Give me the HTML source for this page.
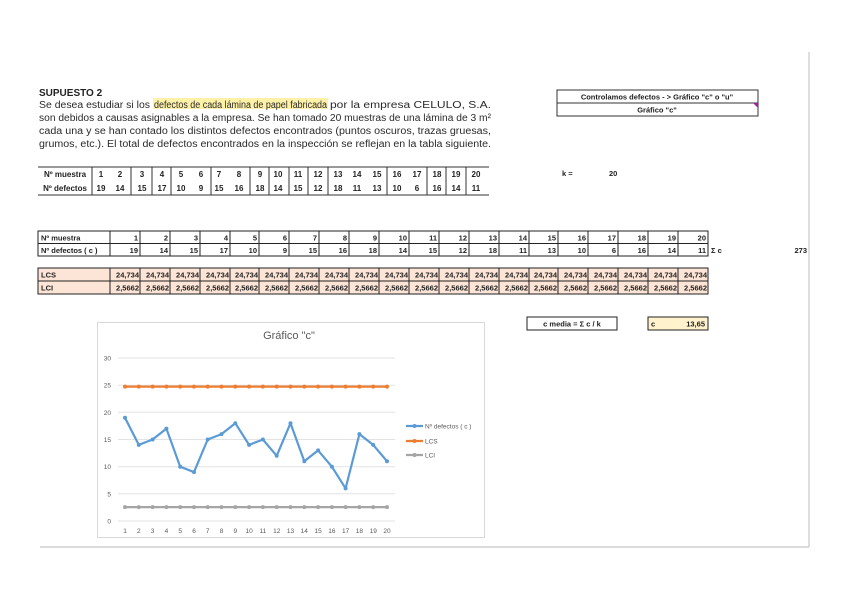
<!DOCTYPE html>
<html><head><meta charset="utf-8"><style>
html,body{margin:0;padding:0;background:#fff;}
svg{display:block;font-family:"Liberation Sans Narrow","Liberation Sans",sans-serif;}
</style></head><body>
<svg width="848" height="599" viewBox="0 0 848 599" xmlns="http://www.w3.org/2000/svg">
<rect width="848" height="599" fill="#fff"/>
<line x1="809" y1="52" x2="809" y2="547" stroke="#c8c8c8" stroke-width="1.2"/>
<line x1="40" y1="547" x2="809" y2="547" stroke="#c8c8c8" stroke-width="1.2"/>

<text x="39" y="96" font-size="10" font-weight="bold" fill="#222">SUPUESTO 2</text>
<rect x="153" y="98" width="175" height="11" fill="#fff2a8"/>
<g font-size="10" fill="#2a2a2a">
<text x="39" y="108" textLength="111" lengthAdjust="spacingAndGlyphs">Se desea estudiar si los</text>
<text x="154" y="108" textLength="173" lengthAdjust="spacingAndGlyphs">defectos de cada lámina de papel fabricada</text>
<text x="330" y="108" textLength="161" lengthAdjust="spacingAndGlyphs">por la empresa CELULO, S.A.</text>
<text x="39" y="121" textLength="452" lengthAdjust="spacingAndGlyphs">son debidos  a causas asignables a la empresa. Se han tomado 20 muestras de una lámina de 3 m²</text>
<text x="39" y="134" textLength="452" lengthAdjust="spacingAndGlyphs">cada una y se han contado los distintos defectos encontrados (puntos oscuros, trazas gruesas,</text>
<text x="39" y="147" textLength="452" lengthAdjust="spacingAndGlyphs">grumos, etc.). El total de defectos encontrados en la inspección se reflejan en la tabla siguiente.</text>
</g>

<g stroke="#333" stroke-width="1" fill="none">
<line x1="38" y1="167" x2="489" y2="167"/>
<line x1="38" y1="195" x2="489" y2="195"/>
<line x1="92" y1="167" x2="92" y2="195"/>
<line x1="131" y1="167" x2="131" y2="195"/>
<line x1="152" y1="167" x2="152" y2="195"/>
<line x1="171" y1="167" x2="171" y2="195"/>
<line x1="211" y1="167" x2="211" y2="195"/>
<line x1="250" y1="167" x2="250" y2="195"/>
<line x1="269" y1="167" x2="269" y2="195"/>
<line x1="289" y1="167" x2="289" y2="195"/>
<line x1="308" y1="167" x2="308" y2="195"/>
<line x1="328" y1="167" x2="328" y2="195"/>
<line x1="387" y1="167" x2="387" y2="195"/>
<line x1="427" y1="167" x2="427" y2="195"/>
<line x1="446" y1="167" x2="446" y2="195"/>
<line x1="466" y1="167" x2="466" y2="195"/>
</g>
<g font-size="8" font-weight="bold" fill="#222" text-anchor="middle">
<text x="65" y="177">Nº muestra</text><text x="65" y="191">Nº defectos</text>
<text x="101" y="177">1</text><text x="120" y="177">2</text><text x="142" y="177">3</text><text x="162" y="177">4</text><text x="181" y="177">5</text><text x="201" y="177">6</text><text x="219" y="177">7</text><text x="239" y="177">8</text><text x="260" y="177">9</text><text x="278" y="177">10</text><text x="298" y="177">11</text><text x="318" y="177">12</text><text x="338" y="177">13</text><text x="357" y="177">14</text><text x="377" y="177">15</text><text x="397" y="177">16</text><text x="417" y="177">17</text><text x="437" y="177">18</text><text x="456" y="177">19</text><text x="476" y="177">20</text>
<text x="101" y="191">19</text><text x="120" y="191">14</text><text x="142" y="191">15</text><text x="162" y="191">17</text><text x="181" y="191">10</text><text x="201" y="191">9</text><text x="219" y="191">15</text><text x="239" y="191">16</text><text x="260" y="191">18</text><text x="278" y="191">14</text><text x="298" y="191">15</text><text x="318" y="191">12</text><text x="338" y="191">18</text><text x="357" y="191">11</text><text x="377" y="191">13</text><text x="397" y="191">10</text><text x="417" y="191">6</text><text x="437" y="191">16</text><text x="456" y="191">14</text><text x="476" y="191">11</text>
</g>

<rect x="557" y="90" width="201" height="13" fill="none" stroke="#333"/>
<rect x="557" y="103" width="201" height="13" fill="none" stroke="#333"/>
<polygon points="753,103 758,103 758,108" fill="#a020a0"/>
<g font-size="7.5" font-weight="bold" fill="#222" text-anchor="middle">
<text x="657" y="99.5">Controlamos defectos - &gt; Gráfico "c" o "u"</text>
<text x="657" y="112.5">Gráfico "c"</text>
</g>
<text x="562" y="176" font-size="7.5" font-weight="bold" fill="#222">k =</text>
<text x="609" y="176" font-size="7.5" font-weight="bold" fill="#222">20</text>

<g stroke="#222" stroke-width="1" fill="none">
<rect x="38" y="231" width="670" height="25"/>
<line x1="38" y1="243.5" x2="708" y2="243.5"/>
<line x1="110" y1="231" x2="110" y2="256"/>
<line x1="140" y1="231" x2="140" y2="256"/><line x1="170" y1="231" x2="170" y2="256"/><line x1="200" y1="231" x2="200" y2="256"/><line x1="230" y1="231" x2="230" y2="256"/><line x1="259" y1="231" x2="259" y2="256"/><line x1="289" y1="231" x2="289" y2="256"/><line x1="319" y1="231" x2="319" y2="256"/><line x1="349" y1="231" x2="349" y2="256"/><line x1="379" y1="231" x2="379" y2="256"/><line x1="409" y1="231" x2="409" y2="256"/><line x1="439" y1="231" x2="439" y2="256"/><line x1="469" y1="231" x2="469" y2="256"/><line x1="499" y1="231" x2="499" y2="256"/><line x1="529" y1="231" x2="529" y2="256"/><line x1="558" y1="231" x2="558" y2="256"/><line x1="588" y1="231" x2="588" y2="256"/><line x1="618" y1="231" x2="618" y2="256"/><line x1="648" y1="231" x2="648" y2="256"/><line x1="678" y1="231" x2="678" y2="256"/>
</g>
<g font-size="7.5" font-weight="bold" fill="#222">
<text x="41" y="240.5">Nº muestra</text><text x="41" y="253">Nº defectos ( c )</text>
</g>
<g font-size="7.5" font-weight="bold" fill="#222" text-anchor="end">
<text x="138" y="240.5">1</text><text x="168" y="240.5">2</text><text x="198" y="240.5">3</text><text x="228" y="240.5">4</text><text x="257" y="240.5">5</text><text x="287" y="240.5">6</text><text x="317" y="240.5">7</text><text x="347" y="240.5">8</text><text x="377" y="240.5">9</text><text x="407" y="240.5">10</text><text x="437" y="240.5">11</text><text x="467" y="240.5">12</text><text x="497" y="240.5">13</text><text x="527" y="240.5">14</text><text x="556" y="240.5">15</text><text x="586" y="240.5">16</text><text x="616" y="240.5">17</text><text x="646" y="240.5">18</text><text x="676" y="240.5">19</text><text x="706" y="240.5">20</text>
<text x="138" y="253">19</text><text x="168" y="253">14</text><text x="198" y="253">15</text><text x="228" y="253">17</text><text x="257" y="253">10</text><text x="287" y="253">9</text><text x="317" y="253">15</text><text x="347" y="253">16</text><text x="377" y="253">18</text><text x="407" y="253">14</text><text x="437" y="253">15</text><text x="467" y="253">12</text><text x="497" y="253">18</text><text x="527" y="253">11</text><text x="556" y="253">13</text><text x="586" y="253">10</text><text x="616" y="253">6</text><text x="646" y="253">16</text><text x="676" y="253">14</text><text x="706" y="253">11</text>
<text x="807" y="253">273</text>
</g>
<text x="711" y="253" font-size="7.5" font-weight="bold" fill="#222">Σ c</text>

<rect x="38" y="268" width="670" height="26" fill="#fce4d6"/>
<g stroke="#222" stroke-width="1" fill="none">
<rect x="38" y="268" width="670" height="26"/>
<line x1="38" y1="281" x2="708" y2="281"/>
<line x1="110" y1="268" x2="110" y2="294"/>
<line x1="140" y1="268" x2="140" y2="294"/><line x1="170" y1="268" x2="170" y2="294"/><line x1="200" y1="268" x2="200" y2="294"/><line x1="230" y1="268" x2="230" y2="294"/><line x1="259" y1="268" x2="259" y2="294"/><line x1="289" y1="268" x2="289" y2="294"/><line x1="319" y1="268" x2="319" y2="294"/><line x1="349" y1="268" x2="349" y2="294"/><line x1="379" y1="268" x2="379" y2="294"/><line x1="409" y1="268" x2="409" y2="294"/><line x1="439" y1="268" x2="439" y2="294"/><line x1="469" y1="268" x2="469" y2="294"/><line x1="499" y1="268" x2="499" y2="294"/><line x1="529" y1="268" x2="529" y2="294"/><line x1="558" y1="268" x2="558" y2="294"/><line x1="588" y1="268" x2="588" y2="294"/><line x1="618" y1="268" x2="618" y2="294"/><line x1="648" y1="268" x2="648" y2="294"/><line x1="678" y1="268" x2="678" y2="294"/>
</g>
<g font-size="7.5" font-weight="bold" fill="#222">
<text x="41" y="277.5">LCS</text><text x="41" y="290.5">LCI</text>
</g>
<g font-size="7.5" font-weight="bold" fill="#222" text-anchor="end">
<text x="139" y="277.5">24,734</text><text x="169" y="277.5">24,734</text><text x="199" y="277.5">24,734</text><text x="229" y="277.5">24,734</text><text x="258" y="277.5">24,734</text><text x="288" y="277.5">24,734</text><text x="318" y="277.5">24,734</text><text x="348" y="277.5">24,734</text><text x="378" y="277.5">24,734</text><text x="408" y="277.5">24,734</text><text x="438" y="277.5">24,734</text><text x="468" y="277.5">24,734</text><text x="498" y="277.5">24,734</text><text x="528" y="277.5">24,734</text><text x="557" y="277.5">24,734</text><text x="587" y="277.5">24,734</text><text x="617" y="277.5">24,734</text><text x="647" y="277.5">24,734</text><text x="677" y="277.5">24,734</text><text x="707" y="277.5">24,734</text>
<text x="139" y="290.5">2,5662</text><text x="169" y="290.5">2,5662</text><text x="199" y="290.5">2,5662</text><text x="229" y="290.5">2,5662</text><text x="258" y="290.5">2,5662</text><text x="288" y="290.5">2,5662</text><text x="318" y="290.5">2,5662</text><text x="348" y="290.5">2,5662</text><text x="378" y="290.5">2,5662</text><text x="408" y="290.5">2,5662</text><text x="438" y="290.5">2,5662</text><text x="468" y="290.5">2,5662</text><text x="498" y="290.5">2,5662</text><text x="528" y="290.5">2,5662</text><text x="557" y="290.5">2,5662</text><text x="587" y="290.5">2,5662</text><text x="617" y="290.5">2,5662</text><text x="647" y="290.5">2,5662</text><text x="677" y="290.5">2,5662</text><text x="707" y="290.5">2,5662</text>
</g>

<rect x="527" y="317" width="90" height="13" fill="none" stroke="#222"/>
<text x="572" y="326.5" font-size="7.5" font-weight="bold" fill="#222" text-anchor="middle">c media = Σ c / k</text>
<rect x="648" y="317" width="60" height="13" fill="#fff2cc" stroke="#222"/>
<text x="651" y="326.5" font-size="7.5" font-weight="bold" fill="#222">c</text>
<text x="705" y="326.5" font-size="7.5" font-weight="bold" fill="#222" text-anchor="end">13,65</text>

<rect x="97.5" y="322.5" width="387" height="215" fill="#fff" stroke="#d9d9d9"/>
<text x="289" y="339" font-size="11" fill="#595959" text-anchor="middle">Gráfico "c"</text>
<g stroke="#e3e3e3" stroke-width="1">
<line x1="118" y1="358" x2="395" y2="358"/><line x1="118" y1="385.2" x2="395" y2="385.2"/><line x1="118" y1="412.3" x2="395" y2="412.3"/><line x1="118" y1="439.5" x2="395" y2="439.5"/><line x1="118" y1="466.7" x2="395" y2="466.7"/><line x1="118" y1="493.8" x2="395" y2="493.8"/><line x1="118" y1="521" x2="395" y2="521"/>
</g>
<g font-size="6.5" fill="#595959" text-anchor="end">
<text x="111" y="360.5">30</text><text x="111" y="387.7">25</text><text x="111" y="414.8">20</text><text x="111" y="442">15</text><text x="111" y="469.2">10</text><text x="111" y="496.3">5</text><text x="111" y="523.5">0</text>
</g>
<g font-size="6.5" fill="#595959" text-anchor="middle">
<text x="125" y="533">1</text><text x="138.8" y="533">2</text><text x="152.6" y="533">3</text><text x="166.4" y="533">4</text><text x="180.2" y="533">5</text><text x="194" y="533">6</text><text x="207.7" y="533">7</text><text x="221.5" y="533">8</text><text x="235.3" y="533">9</text><text x="249.1" y="533">10</text><text x="262.9" y="533">11</text><text x="276.7" y="533">12</text><text x="290.5" y="533">13</text><text x="304.3" y="533">14</text><text x="318.1" y="533">15</text><text x="331.9" y="533">16</text><text x="345.6" y="533">17</text><text x="359.4" y="533">18</text><text x="373.2" y="533">19</text><text x="387" y="533">20</text>
</g>
<g stroke="#a5a5a5" fill="#a5a5a5">
<line x1="125" y1="507.1" x2="387" y2="507.1" stroke-width="2.2"/>
<g stroke="none"><circle cx="125" cy="507.1" r="2"/><circle cx="138.8" cy="507.1" r="2"/><circle cx="152.6" cy="507.1" r="2"/><circle cx="166.4" cy="507.1" r="2"/><circle cx="180.2" cy="507.1" r="2"/><circle cx="194" cy="507.1" r="2"/><circle cx="207.7" cy="507.1" r="2"/><circle cx="221.5" cy="507.1" r="2"/><circle cx="235.3" cy="507.1" r="2"/><circle cx="249.1" cy="507.1" r="2"/><circle cx="262.9" cy="507.1" r="2"/><circle cx="276.7" cy="507.1" r="2"/><circle cx="290.5" cy="507.1" r="2"/><circle cx="304.3" cy="507.1" r="2"/><circle cx="318.1" cy="507.1" r="2"/><circle cx="331.9" cy="507.1" r="2"/><circle cx="345.6" cy="507.1" r="2"/><circle cx="359.4" cy="507.1" r="2"/><circle cx="373.2" cy="507.1" r="2"/><circle cx="387" cy="507.1" r="2"/></g>
</g>
<g stroke="#ed7d31" fill="#ed7d31">
<line x1="125" y1="386.6" x2="387" y2="386.6" stroke-width="2.2"/>
<g stroke="none"><circle cx="125" cy="386.6" r="2"/><circle cx="138.8" cy="386.6" r="2"/><circle cx="152.6" cy="386.6" r="2"/><circle cx="166.4" cy="386.6" r="2"/><circle cx="180.2" cy="386.6" r="2"/><circle cx="194" cy="386.6" r="2"/><circle cx="207.7" cy="386.6" r="2"/><circle cx="221.5" cy="386.6" r="2"/><circle cx="235.3" cy="386.6" r="2"/><circle cx="249.1" cy="386.6" r="2"/><circle cx="262.9" cy="386.6" r="2"/><circle cx="276.7" cy="386.6" r="2"/><circle cx="290.5" cy="386.6" r="2"/><circle cx="304.3" cy="386.6" r="2"/><circle cx="318.1" cy="386.6" r="2"/><circle cx="331.9" cy="386.6" r="2"/><circle cx="345.6" cy="386.6" r="2"/><circle cx="359.4" cy="386.6" r="2"/><circle cx="373.2" cy="386.6" r="2"/><circle cx="387" cy="386.6" r="2"/></g>
</g>
<g fill="#5b9bd5">
<polyline fill="none" stroke="#5b9bd5" stroke-width="2.2" stroke-linejoin="round" points="125,417.8 138.8,444.9 152.6,439.5 166.4,428.6 180.2,466.7 194,472.1 207.7,439.5 221.5,434.1 235.3,423.2 249.1,444.9 262.9,439.5 276.7,455.8 290.5,423.2 304.3,461.2 318.1,450.4 331.9,466.7 345.6,488.4 359.4,434.1 373.2,444.9 387,461.2"/>
<circle cx="125" cy="417.8" r="2"/><circle cx="138.8" cy="444.9" r="2"/><circle cx="152.6" cy="439.5" r="2"/><circle cx="166.4" cy="428.6" r="2"/><circle cx="180.2" cy="466.7" r="2"/><circle cx="194" cy="472.1" r="2"/><circle cx="207.7" cy="439.5" r="2"/><circle cx="221.5" cy="434.1" r="2"/><circle cx="235.3" cy="423.2" r="2"/><circle cx="249.1" cy="444.9" r="2"/><circle cx="262.9" cy="439.5" r="2"/><circle cx="276.7" cy="455.8" r="2"/><circle cx="290.5" cy="423.2" r="2"/><circle cx="304.3" cy="461.2" r="2"/><circle cx="318.1" cy="450.4" r="2"/><circle cx="331.9" cy="466.7" r="2"/><circle cx="345.6" cy="488.4" r="2"/><circle cx="359.4" cy="434.1" r="2"/><circle cx="373.2" cy="444.9" r="2"/><circle cx="387" cy="461.2" r="2"/>
</g>
<line x1="406" y1="426" x2="423" y2="426" stroke="#5b9bd5" stroke-width="2.2"/><circle cx="414.5" cy="426" r="2" fill="#5b9bd5"/>
<line x1="406" y1="441" x2="423" y2="441" stroke="#ed7d31" stroke-width="2.2"/><circle cx="414.5" cy="441" r="2" fill="#ed7d31"/>
<line x1="406" y1="455" x2="423" y2="455" stroke="#a5a5a5" stroke-width="2.2"/><circle cx="414.5" cy="455" r="2" fill="#a5a5a5"/>
<g font-size="6.5" fill="#595959">
<text x="425" y="428.5">Nº defectos ( c )</text><text x="425" y="443.5">LCS</text><text x="425" y="457.5">LCI</text>
</g>
</svg>
</body></html>
